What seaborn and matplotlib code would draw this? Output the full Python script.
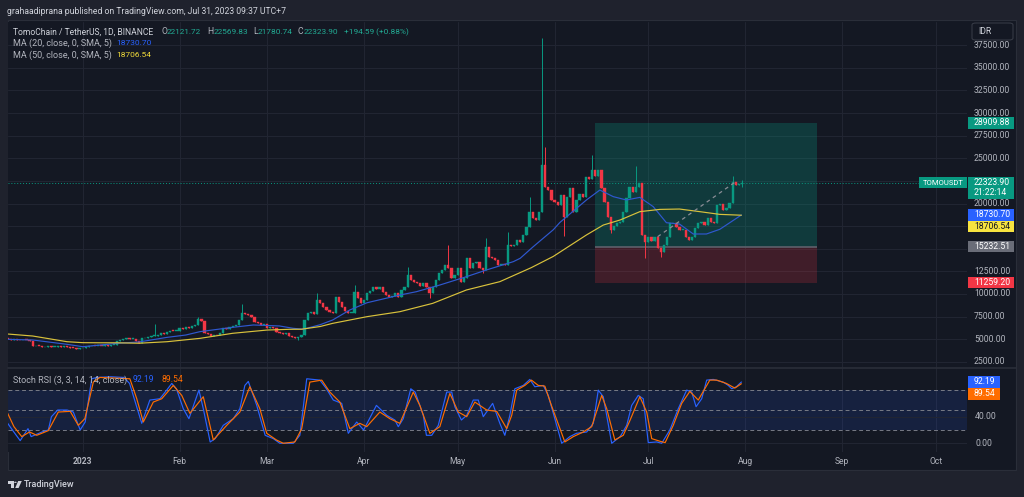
import numpy as np
import pandas as pd
import seaborn as sns
import matplotlib.pyplot as plt
from matplotlib.patches import Rectangle, FancyBboxPatch, Polygon, Circle
from matplotlib.transforms import blended_transform_factory

# daily closes TOMO/USDT (IDR), 2022-12-08 .. 2023-07-31
closes = [
    5000, 4950, 5020, 4900, 4870, 4950, 4900, 4850, 4200, 4300,
    4250, 4080, 4150, 4200, 4150, 4180, 4220, 4160, 4200, 4180,
    4020, 3990, 3950, 3980,
    # jan
    4050, 4150, 4200, 4280, 4250, 4300, 4240, 4330, 4290, 4350,
    4380, 4750, 4900, 4980, 5090, 5020, 5060, 4850, 4620, 5090,
    5150, 5200, 5350, 5400, 5460, 5650, 5600, 5800, 5950, 5880, 5900,
    # feb
    6200, 6150, 6300, 6250, 6450, 6570, 7190, 7000, 5650, 5550,
    5400, 5500, 5420, 5650, 6200, 6100, 6400, 6460, 6600, 7120,
    7860, 7800, 7700, 7490, 6930, 6750, 6600, 6650,
    # mar
    6200, 6300, 6250, 5750, 5700, 5600, 5650, 5400, 5200, 5100,
    5250, 5460, 7120, 7860, 8040, 7780, 9330, 9000, 8600, 8230,
    8000, 7860, 9700, 9100, 8600, 8100, 7860, 7900, 10250, 9520, 8960,
    # apr
    9300, 10070, 10300, 10810, 10600, 10750, 10200, 9880, 9700, 9750,
    10070, 9700, 10440, 10810, 12100, 11540, 11300, 11170, 10900, 11200,
    10800, 10070, 10810, 11500, 12280, 12650, 13200, 12830, 11720, 12100,
    # may
    12830, 11360, 11800, 13940, 12830, 13400, 13570, 12830, 12650, 15230,
    14120, 13940, 13800, 13200, 13300, 13200, 15410, 15300, 15410, 15970,
    15800, 16520, 17440, 19100, 18360, 18170, 19100, 24260, 21860, 21490, 20390,
    # jun
    20200, 19830, 20940, 18550, 20760, 21680, 19100, 20400, 21000, 20760,
    22960, 22700, 23700, 23000, 23700, 21680, 20200, 18550, 17070, 17500,
    17800, 17990, 19100, 20570, 21860, 21300, 21800, 22230, 16520, 15780,
    # jul
    16300, 15900, 16330, 15040, 14670, 15410, 16330, 17810, 17900, 17400,
    17070, 17100, 16330, 15960, 16330, 17250, 17810, 18000, 17620, 18360,
    18000, 17800, 19830, 20000, 19300, 19500, 20020, 22420, 22050, 22121.72, 22323.90,
]
first_open = 5050

wick_high = {
    "2023-01-24": 6680, "2023-02-07": 7400, "2023-02-21": 8850,
    "2023-03-17": 10140, "2023-03-29": 10990, "2023-04-15": 13000,
    "2023-04-28": 15400, "2023-05-10": 16150, "2023-05-17": 16900,
    "2023-05-24": 20760, "2023-05-28": 38300, "2023-05-29": 26300,
    "2023-06-13": 25400, "2023-06-27": 24100, "2023-07-28": 23000,
    "2023-07-31": 22569.83,
}
wick_low = {
    "2023-03-11": 4900, "2023-04-22": 9520, "2023-05-09": 12280,
    "2023-06-04": 16400, "2023-06-19": 16700, "2023-06-30": 13940,
    "2023-07-05": 14100, "2023-07-31": 21780.74,
}

# moving averages (days from 2023-01-01)
ma20_days = [-24, -16, -5, 0, 5.5, 11, 18, 27, 33, 37.5, 48, 54.6, 63, 67.4, 70.6, 76, 80,
             85.5, 91, 101.5, 106.8, 114.3, 122.8, 129.2, 137.8, 140, 144.2, 150.6, 152.7,
             161.2, 165.5, 169.8, 174, 178.3, 182.6, 186.8, 191, 195.4, 199.6, 203.9, 210.8]
ma20_vals = [4980, 4910, 4430, 4170, 4350, 4540, 4690, 5200, 5460, 5830, 6310, 6570, 6460,
             6200, 6100, 6600, 7120, 8230, 9030, 9880, 10250, 10990, 11910, 12650, 13570,
             13940, 15230, 17100, 17900, 20390, 21490, 20760, 20390, 20680, 19650, 17880,
             17730, 16630, 16630, 17150, 18730.70]
ma50_days = [-24, -16, -5, 0, 5.5, 11, 18, 27, 37.5, 48, 59, 66, 70, 76, 80, 91, 101.5, 112,
             122.8, 133.5, 143.5, 150.6, 161.2, 166.6, 172, 178.3, 184.7, 191, 197.5, 203.9, 210.8]
ma50_vals = [5570, 5350, 4720, 4614, 4600, 4600, 4550, 4720, 5090, 5650, 6010, 6090, 6100,
             6400, 6750, 7490, 8040, 8960, 10440, 11360, 12900, 14150, 16520, 17620, 18180,
             19100, 19350, 19390, 19100, 18800, 18706.54]

# stoch rsi %K (blue) and %D (orange)
k_days = [-24, -22.5, -20, -17.5, -16.5, -13, -11, -10, -8, -5, -3, -0.8, 0.8, 2.9, 4.5, 9,
          13.2, 15, 18.9, 21.5, 24.7, 26.9, 28.5, 30, 32.2, 34, 37.2, 38.6, 40.8, 42.4, 45,
          48.2, 50.3, 51.9, 53, 55.7, 58.4, 61, 63.1, 67.4, 69.5, 71.7, 75.9, 78, 80.2, 82.9,
          85, 87.7, 89.9, 94, 97.3, 99.9, 101, 102.6, 105, 106.4, 109, 110, 111.7, 113.8,
          116.5, 118.1, 119.1, 121.2, 122.9, 125, 126.6, 128.2, 131.2, 133.5, 135.1, 136.7,
          138.3, 141, 143.1, 144.7, 147.4, 149, 153.3, 155.9, 158, 161.3, 163.4, 165, 166.6,
          169.3, 172, 174.1, 175.7, 177.8, 179.4, 181, 183.7, 185.3, 187.9, 190.6, 193.3,
          194.9, 196.3, 198.1, 199.7, 201.8, 205, 206.6, 207.7, 209.2, 210.8]
k_vals = [30, 20, 4, 22, 10, 17, 20, 40, 50, 50, 47, 20, 32, 97, 99, 100, 99, 90, 30, 65, 67,
          80, 90, 82, 52, 37, 80, 52, 2, 7, 27, 37, 52, 87, 93, 57, 12, 7, 0, 0, 12, 97, 95,
          82, 65, 60, 15, 32, 20, 57, 42, 35, 25, 37, 82, 77, 42, 12, 12, 27, 77, 77, 55, 35,
          42, 65, 65, 40, 60, 30, 12, 42, 82, 87, 96, 85, 87, 72, 0, 10, 15, 17, 30, 80, 70,
          0, 10, 27, 57, 72, 67, 1, 2, 0, 20, 52, 80, 77, 55, 67, 95, 96, 92, 87, 82, 85, 92.19]
d_days = [-24, -22, -19.5, -17, -14.7, -11, -7.8, -4, -1.4, 0.7, 3.4, 5.5, 15.1, 17.3, 19.4,
          22.6, 25.3, 29, 31.7, 34.3, 38.6, 41.8, 46.1, 50.3, 53.5, 56.7, 58.9, 62, 64.2, 67.9,
          70.1, 72.7, 76.5, 79.1, 82.3, 85.5, 88.7, 90.9, 95.1, 98.3, 101.5, 105.8, 107.9,
          111.1, 114.3, 117.5, 120.2, 122.9, 125.5, 129.3, 132.5, 135.7, 137.3, 138.9, 141.5,
          143.6, 145.8, 147.9, 150, 154.3, 157, 160.2, 162.9, 166.1, 167.7, 170.3, 173, 175.2,
          178.3, 180.5, 182.1, 184.8, 186.4, 189, 191.7, 194.3, 197, 200.7, 202.9, 206, 208.7, 210.8]
d_vals = [45, 25, 10, 17, 12, 19, 47, 48, 27, 37, 92, 99, 97, 67, 32, 62, 67, 87, 72, 45, 70,
          5, 27, 47, 85, 52, 15, 5, 0, 2, 22, 92, 95, 77, 62, 22, 30, 25, 47, 37, 30, 77, 57,
          15, 25, 75, 47, 40, 62, 50, 48, 22, 42, 80, 87, 95, 87, 86, 57, 2, 10, 17, 25, 72,
          52, 5, 12, 35, 70, 47, 7, 3, 1, 27, 60, 78, 65, 95, 95, 90, 83, 89.54]

month_starts = ["2023-01-01", "2023-02-01", "2023-03-01", "2023-04-01", "2023-05-01",
                "2023-06-01", "2023-07-01", "2023-08-01", "2023-09-01", "2023-10-01"]
month_labels = ["2023", "Feb", "Mar", "Apr", "May", "Jun", "Jul", "Aug", "Sep", "Oct"]
price_grid = [2500, 5000, 7500, 10000, 12500, 15000, 17500, 20000, 22500, 25000,
              27500, 30000, 32500, 35000, 37500]
price_shown = [2500, 5000, 7500, 10000, 12500, 20000, 25000, 27500, 30000, 32500, 35000, 37500]

take_profit, entry, stop_loss = 28909.88, 15232.51, 11259.20
pos_start, pos_end = "2023-06-14", "2023-08-24"
trend_a = ("2023-07-04", 16330)
trend_b = ("2023-07-29", 22420)
last_close = 22323.90
ma20_last, ma50_last = 18730.70, 18706.54
k_last, d_last = 92.19, 89.54

# colours
FRAME = "#1f222d"
BG = "#141823"
GRID = "#222633"
TXT = "#b2b5be"
UP = "#089981"
DN = "#f23645"
BLUE = "#2962ff"
MA_BLUE = "#2f58d0"
YEL = "#d9c23c"
ORANGE = "#ff6d00"

sns.set_theme(style="dark", rc={"axes.facecolor": BG, "figure.facecolor": FRAME})
plt.rcParams["font.family"] = ["Roboto", "DejaVu Sans"]

W, H = 1024, 497
fig = plt.figure(figsize=(W / 100, H / 100), dpi=100)
renderer = fig.canvas.get_renderer()
fig.patches.append(Rectangle((8 / W, 1 - 470 / H), 1008 / W, 450 / H, transform=fig.transFigure,
                             facecolor=BG, edgecolor="#2a2e39", lw=0.8, zorder=-5))

ax = fig.add_axes([8 / W, 1 - 368 / H, 959 / W, 346 / H])
axr = fig.add_axes([8 / W, 1 - 452 / H, 959 / W, 84 / H])

base = pd.Timestamp("2023-01-01")


def dnum(s):
    return (pd.Timestamp(s) - base).days


def size_for(s, width_px, ref=7.0, **kw):
    t = fig.text(0, 0, s, fontsize=ref, **kw)
    w = t.get_window_extent(renderer=renderer).width
    t.remove()
    return ref * width_px / w


for a in (ax, axr):
    a.set_facecolor(BG)
    for sp in a.spines.values():
        sp.set_visible(False)
    for m in month_starts:
        a.axvline(dnum(m), color=GRID, lw=0.7, zorder=0)

for p in price_grid:
    ax.axhline(p, color=GRID, lw=0.7, zorder=0)

# position tool
x0, x1 = dnum(pos_start), dnum(pos_end)
ax.add_patch(Rectangle((x0, entry), x1 - x0, take_profit - entry, facecolor=UP, alpha=0.27, lw=0, zorder=1))
ax.add_patch(Rectangle((x0, stop_loss), x1 - x0, entry - stop_loss, facecolor=DN, alpha=0.2, lw=0, zorder=1))
ax.hlines(entry, x0, x1, color="#5d606b", lw=1.2, zorder=1)

ax.axhline(last_close, color=UP, lw=0.7, ls=(0, (1, 2)), zorder=2)

# candles
dates = pd.date_range(end="2023-07-31", periods=len(closes))
xs = (dates - base).days.to_numpy()
c = np.array(closes, float)
o = np.r_[first_open, c[:-1]]
hi = np.maximum(o, c)
lo = np.minimum(o, c)
for k, v in wick_high.items():
    hi[dates.get_loc(pd.Timestamp(k))] = v
for k, v in wick_low.items():
    lo[dates.get_loc(pd.Timestamp(k))] = v
cols = np.where(c >= o, UP, DN)
ax.vlines(xs, lo, hi, colors=cols, lw=0.7, zorder=3)
ax.bar(xs, np.maximum(np.abs(c - o), 90), bottom=np.minimum(o, c), width=0.72, color=cols,
       edgecolor=cols, lw=0.3, zorder=4)

sns.lineplot(x=ma20_days, y=ma20_vals, ax=ax, color=MA_BLUE, lw=0.85, zorder=5)
sns.lineplot(x=ma50_days, y=ma50_vals, ax=ax, color=YEL, lw=0.85, zorder=5)
ax.plot([dnum(trend_a[0]), dnum(trend_b[0])], [trend_a[1], trend_b[1]],
        color="#8a8d96", lw=0.9, ls=(0, (3, 3)), zorder=5)

ax.set_xlim(-23.9, 283.0)
ax.set_ylim(1813, 40071)

# stoch rsi pane
axr.axhspan(20, 80, color=BLUE, alpha=0.13, lw=0, zorder=0)
for lvl in (0, 40):
    axr.axhline(lvl, color=GRID, lw=0.7, zorder=0)
for lvl in (80, 50, 20):
    axr.axhline(lvl, color="#787b86", lw=0.7, ls=(0, (4, 3)), zorder=1)
sns.lineplot(x=k_days, y=k_vals, ax=axr, color=BLUE, lw=0.85, zorder=3)
sns.lineplot(x=d_days, y=d_vals, ax=axr, color=ORANGE, lw=0.85, zorder=4)
axr.set_xlim(-23.9, 283.0)
axr.set_ylim(-13.1, 113.2)

for a in (ax, axr):
    a.set_xticks([])
    a.set_yticks([])
    a.set_xlabel("")
    a.set_ylabel("")

# pane separator
fig.lines.append(plt.Line2D([8 / W, 1016 / W], [1 - 368 / H] * 2, transform=fig.transFigure,
                            color="#2a2e39", lw=1.2))

NS = size_for("37500.00", 36)
FS = size_for("MA (20, close, 0, SMA, 5)", 99)

tr = blended_transform_factory(fig.transFigure, ax.transData)
for p in price_shown:
    ax.text(974 / W, p, f"{p:.2f}", transform=tr, color=TXT, fontsize=NS, va="center", ha="left")
trr = blended_transform_factory(fig.transFigure, axr.transData)
for v in (0, 40):
    axr.text(975 / W, v, f"{v:.2f}", transform=trr, color=TXT, fontsize=NS, va="center", ha="left")

TS = size_for("Feb", 14)
trx = blended_transform_factory(axr.transData, fig.transFigure)
for m, lab in zip(month_starts, month_labels):
    axr.text(dnum(m), 1 - 461 / H, lab, transform=trx, color=TXT, fontsize=TS,
             ha="center", va="center", fontweight="bold" if lab == "2023" else "normal")


def ypix(a, v):
    return H - a.transData.transform((0, v))[1]


def tag(a, v, text, fc, tc="white", dy=0.0, xa=968, xb=1014, h=11.5, extra=None):
    yc = ypix(a, v) + dy
    hh = h if extra is None else h * 1.9
    top = yc - h / 2
    fig.patches.append(Rectangle((xa / W, 1 - (top + hh) / H), (xb - xa) / W, hh / H,
                                 transform=fig.transFigure, facecolor=fc, lw=0, zorder=5))
    fig.text((xa + 6) / W, 1 - yc / H, text, color=tc, fontsize=NS, va="center", zorder=6)
    if extra:
        fig.text((xa + 6) / W, 1 - (yc + 9.5) / H, extra, color=tc, fontsize=NS, va="center", zorder=6)


tag(ax, take_profit, f"{take_profit:.2f}", UP)
tag(ax, last_close, f"{last_close:.2f}", UP, extra="21:22:14")
tag(ax, ma20_last, f"{ma20_last:.2f}", BLUE)
tag(ax, ma50_last, f"{ma50_last:.2f}", "#f7e33f", tc="#131722", dy=11.5)
tag(ax, entry, f"{entry:.2f}", "#6a6d78")
tag(ax, stop_loss, f"{stop_loss:.2f}", DN)
tag(axr, k_last, f"{k_last:.2f}", BLUE, xb=1000)
tag(axr, d_last, f"{d_last:.2f}", ORANGE, xb=1000, dy=10.2)

# symbol label next to the price
ysym = ypix(ax, last_close)
fig.patches.append(Rectangle((919 / W, 1 - (ysym + 5.75) / H), 48 / W, 11.5 / H,
                             transform=fig.transFigure, facecolor=UP, lw=0, zorder=5))
fig.text(922.5 / W, 1 - ysym / H, "TOMOUSDT", color="white", fontsize=size_for("TOMOUSDT", 41),
         va="center", zorder=6)

# currency box
fig.patches.append(FancyBboxPatch((972 / W, 1 - 40 / H), 41 / W, 17 / H, boxstyle="round,pad=0,rounding_size=0.004",
                                  transform=fig.transFigure, facecolor=BG, edgecolor="#363a45", lw=0.8, zorder=5))
fig.text(978 / W, 1 - 31.5 / H, "IDR", color="#d1d4dc", fontsize=NS, va="center", zorder=6)


def put(x, y, s, col, size=None, width=None, **kw):
    if width is not None:
        size = size_for(s, width, **kw)
    fig.text(x / W, 1 - y / H, s, color=col, fontsize=size if size else FS, va="center", ha="left", **kw)


put(7.3, 12, "grahaadiprana published on TradingView.com, Jul 31, 2023 09:37 UTC+7", "#d1d4dc", width=281)

VAL = "#22ab94"
put(13, 31.7, "TomoChain / TetherUS, 1D, BINANCE", "#d1d4dc", width=141)
for lx, lab, vx, val in [(161, "O", 167, "22121.72"), (207, "H", 213.5, "22569.83"),
                         (253, "L", 258, "21780.74"), (298, "C", 304, "22323.90")]:
    put(lx, 31.7, lab, TXT, size=NS)
    put(vx, 31.7, val, VAL, width=35)
put(343.5, 31.7, "+194.59 (+0.88%)", VAL, width=65)
put(13, 43.3, "MA (20, close, 0, SMA, 5)", TXT)
put(116, 43.3, f"{ma20_last:.2f}", BLUE, width=35)
put(13, 55, "MA (50, close, 0, SMA, 5)", TXT)
put(116, 55, f"{ma50_last:.2f}", "#f2dc3a", width=35)
put(13, 380, "Stoch RSI (3, 3, 14, 14, close)", TXT, width=115)
put(133, 380, f"{k_last:.2f}", BLUE, width=22)
put(161, 380, f"{d_last:.2f}", ORANGE, width=22)

# TradingView logo
LOGO = "#d1d4dc"
fig.patches.append(Polygon([(7.5 / W, 1 - 481 / H), (13.5 / W, 1 - 481 / H), (13.5 / W, 1 - 488 / H),
                            (10.8 / W, 1 - 488 / H), (10.8 / W, 1 - 483.6 / H), (7.5 / W, 1 - 483.6 / H)],
                           closed=True, transform=fig.transFigure, facecolor=LOGO, lw=0))
fig.patches.append(Circle((15.4 / W, 1 - 482.3 / H), 1.3 / W, transform=fig.transFigure, facecolor=LOGO, lw=0))
fig.patches.append(Polygon([(18.2 / W, 1 - 481 / H), (21.8 / W, 1 - 481 / H), (18.6 / W, 1 - 488 / H),
                            (15.2 / W, 1 - 488 / H)], closed=True, transform=fig.transFigure,
                           facecolor=LOGO, lw=0))
put(24, 484.5, "TradingView", LOGO, width=51, fontweight="medium")

fig.savefig("out.png", dpi=100, facecolor=fig.get_facecolor())
